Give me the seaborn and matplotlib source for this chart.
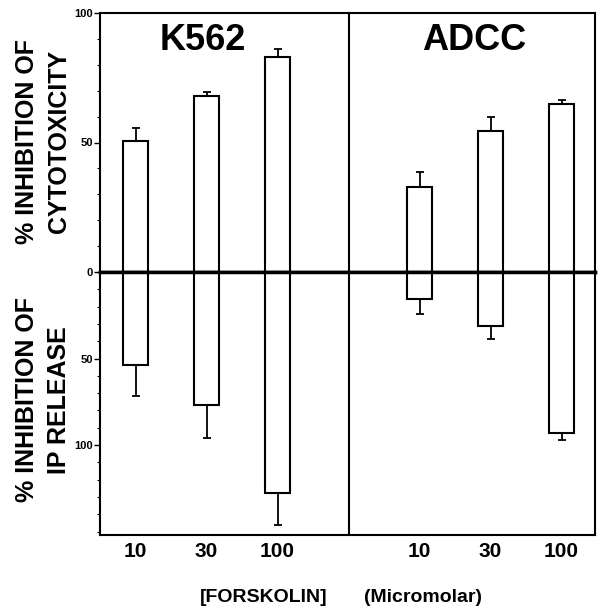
import numpy as np
import pandas as pd
import matplotlib
matplotlib.use("Agg")
import matplotlib.pyplot as plt
import seaborn as sns
from matplotlib.ticker import MultipleLocator, FixedLocator

# forskolin concentrations (micromolar)
conc = ["10", "30", "100"]
pos = [0, 1, 2, 4, 5, 6]

# % inhibition of cytotoxicity (upper panel)
cyto_k562 = [50.5, 68, 83]
cyto_k562_err = [5, 1.5, 3]
cyto_adcc = [33, 54.5, 65]
cyto_adcc_err = [5.5, 5.5, 1.5]

# % inhibition of IP release (lower panel, drawn downwards)
ip_k562 = [54, 77, 128]
ip_k562_err = [17.5, 19, 18]
ip_adcc = [15.5, 31, 93]
ip_adcc_err = [8.5, 8, 4]

sns.set_style("ticks")
plt.rcParams['font.family'] = ['Liberation Sans', 'DejaVu Sans']
plt.rcParams['text.color'] = 'black'
plt.rcParams['axes.edgecolor'] = 'black'
plt.rcParams['xtick.color'] = 'black'
plt.rcParams['ytick.color'] = 'black'

df = pd.DataFrame({
    "pos": pos,
    "conc": conc * 2,
    "cyto": cyto_k562 + cyto_adcc,
    "cyto_err": cyto_k562_err + cyto_adcc_err,
    "ip": ip_k562 + ip_adcc,
    "ip_err": ip_k562_err + ip_adcc_err,
})

W, H = 598, 611
left, right = 100, 595
top, zero, bottom = 13, 272, 535

fig = plt.figure(figsize=(W / 100, H / 100), dpi=100)
ax_top = fig.add_axes([left / W, 1 - zero / H, (right - left) / W, (zero - top) / H])
ax_bot = fig.add_axes([left / W, 1 - bottom / H, (right - left) / W, (bottom - zero) / H])

lw = 1.5
for ax, col in [(ax_top, "cyto"), (ax_bot, "ip")]:
    sns.barplot(data=df, x="pos", y=col, native_scale=True, width=0.35,
                color="white", edgecolor="black", linewidth=lw,
                errorbar=None, ax=ax, zorder=2)
    ax.errorbar(df["pos"], df[col], yerr=[np.zeros(len(df)), df[col + "_err"]],
                fmt="none", ecolor="black", elinewidth=1.3, capsize=3,
                capthick=1.3, zorder=1)
    ax.axvline(3, color="black", lw=lw)
    ax.set_xlim(-0.5, 6.47)
    for s in ax.spines.values():
        s.set_linewidth(lw)
        s.set_color("black")
        s.set_visible(True)
    ax.set_xlabel("")
    ax.set_ylabel("")
    ax.yaxis.set_minor_locator(MultipleLocator(10))
    ax.tick_params(axis="y", which="major", length=4, width=1, direction="out",
                   labelsize=8, pad=1)
    ax.tick_params(axis="y", which="minor", length=2, width=0.8, direction="out")

ax_top.set_ylim(0, 100)
ax_top.set_yticks([0, 50, 100])
ax_top.set_yticklabels(["0", "50", "100"], fontweight="bold", fontsize=8)
ax_top.set_xticks([])
ax_top.spines["bottom"].set_linewidth(2.5)

ax_bot.set_ylim(152, 0)
ax_bot.set_yticks([50, 100])
ax_bot.set_yticklabels(["50", "100"], fontweight="bold", fontsize=8)
ax_bot.yaxis.set_minor_locator(FixedLocator([10, 20, 30, 40, 60, 70, 80, 90, 110, 120, 130, 140, 150]))
ax_bot.spines["top"].set_linewidth(2.5)
ax_bot.set_xticks(pos)
ax_bot.set_xticklabels(conc * 2, fontsize=15, fontweight="bold")
ax_bot.tick_params(axis="x", length=0, pad=5)

# panel titles
fig.text(203 / W, 1 - 40 / H, "K562", fontsize=26, fontweight="bold",
         ha="center", va="center")
fig.text(474 / W, 1 - 40 / H, "ADCC", fontsize=26, fontweight="bold",
         ha="center", va="center")

# y labels
fig.text(43 / W, 1 - 141 / H, "% INHIBITION OF\nCYTOTOXICITY", rotation=90,
         fontsize=18, fontweight="bold", ha="center", va="center",
         multialignment="center", linespacing=1.45)
fig.text(43 / W, 1 - 400 / H, "% INHIBITION OF\nIP RELEASE", rotation=90,
         fontsize=18, fontweight="bold", ha="center", va="center",
         multialignment="center", linespacing=1.45)

# x label
fig.text(264 / W, 1 - 597 / H, "[FORSKOLIN]", fontsize=14, fontweight="bold",
         ha="center", va="center")
fig.text(423 / W, 1 - 597 / H, "(Micromolar)", fontsize=14, fontweight="bold",
         ha="center", va="center")

fig.savefig("out.png", dpi=100)
